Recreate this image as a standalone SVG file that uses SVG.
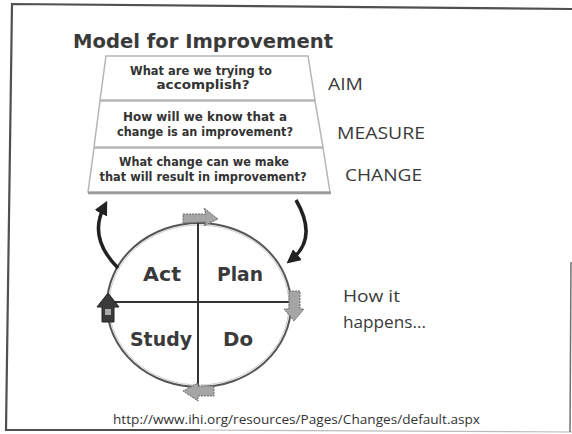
<svg xmlns="http://www.w3.org/2000/svg" width="572" height="434" viewBox="0 0 572 434">
<defs>
<style>
.frame{fill:none;stroke:#505050;stroke-width:2.2}
.box{fill:#fff;stroke:#b5b5b5;stroke-width:1.5}
.q{font-family:"DejaVu Sans",sans-serif;font-weight:bold;font-size:11.5px;fill:#333;text-anchor:middle}
.lbl{font-family:"Open Sans","Liberation Sans",sans-serif;font-size:16px;fill:#3a3a3a}
.pd{font-family:"DejaVu Sans",sans-serif;font-weight:bold;font-size:19px;fill:#3a3a3a}
.blk{fill:#a5a5a5;stroke:#6a6a6a;stroke-width:1;stroke-dasharray:2 1}
.cur{fill:none;stroke:#222;stroke-width:3.5}
</style>
<marker id="ah" viewBox="0 0 10 10" refX="5" refY="5" markerWidth="4" markerHeight="4" orient="auto" markerUnits="strokeWidth">
<path d="M0,0 L10,5 L0,10 z" fill="#222"/>
</marker>
</defs>
<rect width="572" height="434" fill="#fff"/>
<g id="frame">
<polyline class="frame" points="572,9 12,4 6,430 200,430"/>
<line x1="200" y1="430" x2="572" y2="432" stroke="#bbb" stroke-width="1.2"/>
<line x1="571" y1="262" x2="570" y2="432" stroke="#707070" stroke-width="1.5"/>
</g>
<g id="title">
<text x="73" y="48" font-family="DejaVu Sans,sans-serif" font-weight="bold" font-size="20" fill="#3a3a3a" textLength="260" lengthAdjust="spacingAndGlyphs">Model for Improvement</text>
</g>
<g id="aim-box">
<polygon class="box" points="106,56 308,56 315,100 100,100"/>
<text class="q" x="201" y="75" textLength="142" lengthAdjust="spacingAndGlyphs">What are we trying to</text>
<text class="q" x="203" y="89" textLength="93" lengthAdjust="spacingAndGlyphs">accomplish?</text>
</g>
<g id="measure-box">
<polygon class="box" points="100,101 315,101 323,147 94,147"/>
<text class="q" x="205" y="121" textLength="164" lengthAdjust="spacingAndGlyphs">How will we know that a</text>
<text class="q" x="205" y="136" textLength="176" lengthAdjust="spacingAndGlyphs">change is an improvement?</text>
</g>
<g id="change-box">
<polygon class="box" points="94,148 323,148 330,192 88,192"/>
<line x1="88" y1="193" x2="331" y2="193" stroke="#9a9a9a" stroke-width="2.5"/>
<text class="q" x="204" y="166" textLength="170" lengthAdjust="spacingAndGlyphs">What change can we make</text>
<text class="q" x="203" y="181" textLength="207" lengthAdjust="spacingAndGlyphs">that will result in improvement?</text>
</g>
<g id="labels">
<text class="lbl" x="328" y="90" textLength="35" lengthAdjust="spacingAndGlyphs">AIM</text>
<text class="lbl" x="337" y="139" textLength="88" lengthAdjust="spacingAndGlyphs">MEASURE</text>
<text class="lbl" x="345" y="181" textLength="77" lengthAdjust="spacingAndGlyphs">CHANGE</text>
</g>
<g id="pdsa">
<ellipse cx="199" cy="305" rx="92" ry="82" fill="#fff" stroke="#555" stroke-width="2"/>
<ellipse cx="199" cy="305" rx="90" ry="80" fill="none" stroke="#ccc" stroke-width="1"/>
<line x1="198" y1="223" x2="198" y2="387" stroke="#333" stroke-width="2"/>
<line x1="107" y1="302" x2="291" y2="302" stroke="#333" stroke-width="2"/>
</g>
<g id="act"><text class="pd" x="143" y="281" textLength="38" lengthAdjust="spacingAndGlyphs">Act</text></g>
<g id="plan"><text class="pd" x="217" y="281" textLength="46" lengthAdjust="spacingAndGlyphs">Plan</text></g>
<g id="study"><text class="pd" x="130" y="346" textLength="62" lengthAdjust="spacingAndGlyphs">Study</text></g>
<g id="do"><text class="pd" x="223" y="346" textLength="30" lengthAdjust="spacingAndGlyphs">Do</text></g>
<g id="cycle-arrows">
<polygon class="blk" points="183,214 206,214 204,208 218,219 204,226 206,222 183,223"/>
<polygon class="blk" points="289,291 300,291 300,309 304,309 294,321 284,309 289,309"/>
<polygon class="blk" points="214,386 214,396 198,396 198,401 183,391 198,383 198,386"/>
<polygon points="102,322 114,322 114,307 119,307 108,293 97,307 102,307" fill="#3a3a3a" stroke="#222" stroke-width="1"/>
<rect x="105" y="309" width="6" height="6" fill="#aaa"/>
</g>
<g id="connectors">
<path class="cur" d="M118,268 Q88,238 104,207" marker-end="url(#ah)"/>
<path class="cur" d="M296,200 Q318,238 292,259" marker-end="url(#ah)"/>
</g>
<g id="how">
<text class="lbl" x="343" y="302" font-size="18" textLength="57" lengthAdjust="spacingAndGlyphs">How it</text>
<text class="lbl" x="343" y="328" font-size="18" textLength="83" lengthAdjust="spacingAndGlyphs">happens...</text>
</g>
<g id="url">
<text x="113" y="424" font-family="Open Sans,Liberation Sans,sans-serif" font-size="12" fill="#333" textLength="367" lengthAdjust="spacingAndGlyphs">http://www.ihi.org/resources/Pages/Changes/default.aspx</text>
</g>
</svg>
